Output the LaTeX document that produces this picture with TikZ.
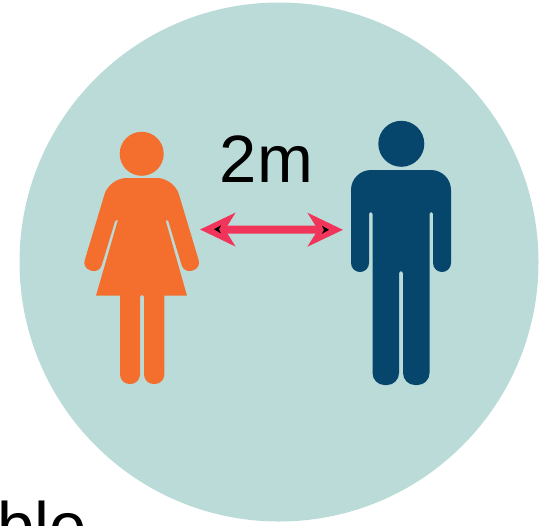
\documentclass[tikz,border=0pt]{standalone}
\usepackage{fontspec}
\setmainfont{Liberation Sans}
\definecolor{disc}{HTML}{BADBD7}
\definecolor{wom}{HTML}{F46E2D}
\definecolor{man}{HTML}{07466C}
\definecolor{gap}{HTML}{F1355A}
\usetikzlibrary{arrows.meta}
\tikzset{
  lab/.style={font=\fontsize{67}{67}\selectfont,inner sep=0pt,anchor=base west,text=black},
  head/.style={circle,inner sep=0pt,draw=none},
  gaparr/.style={draw=gap,line width=8pt,{Stealth[length=35pt,width=33pt,inset=10pt]}-{Stealth[length=35pt,width=33pt,inset=10pt]}},
  gapmark/.style={draw=gap,line width=1pt,{Stealth[length=7pt,width=8pt,inset=2pt,color=black]}-{Stealth[length=7pt,width=8pt,inset=2pt,color=black]}},
}
\begin{document}
\begin{tikzpicture}[x=1pt,y=-1pt]
\useasboundingbox (0,0) rectangle (553,525);
% backdrop
\fill[disc] (279,262) circle (259.5);
% woman
\node[head,fill=wom,minimum size=44pt] (womanhead) at (141.7,153.8) {};
\fill[wom] [rounded corners=17pt] (141.7,178) -- (174,178)
  [rounded corners=8pt] -- (201,268) -- (184,273)
  [rounded corners=1.2pt] -- (168,220) -- (165.5,220)
  [sharp corners] -- (187,295.7) -- (164.3,295.7)
  [rounded corners=9.5pt] -- (164.3,384) -- (144,384)
  [rounded corners=1.5pt] -- (144,295) -- (140,295)
  [rounded corners=9.5pt] -- (140,384) -- (120,384)
  [sharp corners] -- (120,295.7) -- (96,295.7) -- (117.9,220)
  [rounded corners=1.2pt] -- (115.4,220)
  [rounded corners=8pt] -- (99.4,273) -- (82.4,268)
  [rounded corners=17pt] -- (109.4,178) -- cycle;
% man
\node[head,fill=man,minimum size=46pt] (manhead) at (401.3,143.8) {};
\fill[man] [rounded corners=20pt] (401,170) -- (451,170)
  [rounded corners=9pt] -- (451,272) -- (433,272)
  [rounded corners=1.7pt] -- (433,212) -- (429.5,212)
  [rounded corners=12pt] -- (429.5,385) -- (403,385)
  [rounded corners=1.9pt] -- (403,271) -- (399,271)
  [rounded corners=12pt] -- (399,385) -- (372.5,385)
  [rounded corners=1.7pt] -- (372.5,212) -- (369,212)
  [rounded corners=9pt] -- (369,272) -- (351,272)
  [rounded corners=20pt] -- (351,170) -- cycle;
% distance arrow
\coordinate (womanside) at (200,229.5);
\coordinate (manside) at (343,229.8);
\coordinate (womanmark) at (214,229.3);
\coordinate (manmark) at (329,229.8);
\draw[gaparr] (womanside) -- (manside);
\draw[gapmark] (womanmark) -- (manmark);
% labels
\node[lab] (dist) at (219,182) {2\kern1.5pt m};
\node[lab] (cutoff) at (-3,549) {ble};
\end{tikzpicture}
\end{document}
